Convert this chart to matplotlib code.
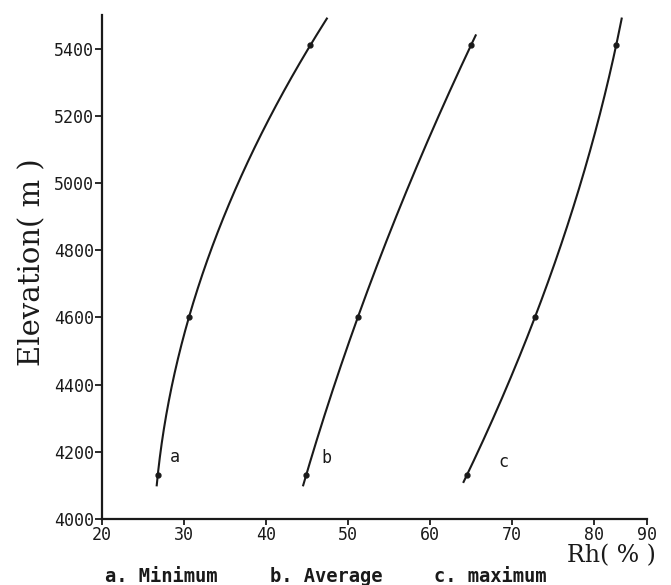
import numpy as np
import matplotlib
matplotlib.use('Agg')
import matplotlib.pyplot as plt

# measured points (Rh %, elevation m) for the three curves
RH_MIN = [26.8, 30.6, 45.4]
RH_AVG = [44.9, 51.2, 65.0]
RH_MAX = [64.5, 72.8, 84.2]
ELEV = [4130, 4600, 5410]

# how far each hand-drawn curve runs (elevation range)
CURVE_RANGE = {'a': (4100, 5490), 'b': (4100, 5440), 'c': (4110, 5490)}
LABEL_POS = {'a': (28.3, 4170), 'b': (46.8, 4165), 'c': (68.3, 4155)}

XTICKS = [20, 30, 40, 50, 60, 70, 80, 90]
YTICKS = [4000, 4200, 4400, 4600, 4800, 5000, 5200, 5400]

INK = '#1a1a1a'
# the original x axis squeezes the 80-90 interval
SQ = 0.646


def fwd(x):
    x = np.asarray(x, dtype=float)
    return np.where(x <= 80, x, 80 + (x - 80) * SQ)


def inv(x):
    x = np.asarray(x, dtype=float)
    return np.where(x <= 80, x, 80 + (x - 80) / SQ)


fig = plt.figure(figsize=(6.71, 5.85), dpi=100)
ax = fig.add_axes([0.152, 0.113, 0.812, 0.861])
ax.set_xscale('function', functions=(fwd, inv))

for key, xs in zip('abc', [RH_MIN, RH_AVG, RH_MAX]):
    # smooth curve fitted in drawn (squeezed) space, like the hand-drawn original
    coef = np.polyfit(ELEV, fwd(xs), 2)
    y0, y1 = CURVE_RANGE[key]
    yy = np.linspace(y0, y1, 200)
    ax.plot(inv(np.polyval(coef, yy)), yy, color=INK, lw=1.5)
    ax.plot(xs, ELEV, 'o', color=INK, ms=3.5)
    lx, ly = LABEL_POS[key]
    ax.text(lx, ly, key, fontsize=12, family='DejaVu Sans Mono', color=INK)

ax.set_xlim(20, 90)
ax.set_ylim(4000, 5500)
ax.set_xticks(XTICKS)
ax.set_yticks(YTICKS)
ax.set_xticklabels([str(t) for t in XTICKS], family='DejaVu Sans Mono', fontsize=12)
ax.set_yticklabels([str(t) for t in YTICKS], family='DejaVu Sans Mono', fontsize=12)
ax.tick_params(axis='x', direction='out', length=4, width=1.3, pad=1, colors=INK)
ax.tick_params(axis='y', direction='out', length=5, width=1.3, pad=1, colors=INK)
for s in ['top', 'right']:
    ax.spines[s].set_visible(False)
for s in ['left', 'bottom']:
    ax.spines[s].set_linewidth(1.6)
    ax.spines[s].set_color(INK)

fig.text(32 / 671, 1 - 262 / 585, 'Elevation( m )', rotation=90, ha='center', va='center',
         family='DejaVu Serif', fontsize=21, color=INK)
fig.text(0.977, 1 - 556 / 585, 'Rh( % )', ha='right', va='center',
         family='DejaVu Serif', fontsize=17, color=INK)

for txt, x in [('a. Minimum', 105), ('b. Average', 270), ('c. maximum', 434)]:
    fig.text(x / 671, 1 - 577 / 585, txt, ha='left', va='center',
             family='DejaVu Sans Mono', fontsize=13.5, fontweight='bold', color=INK)

fig.savefig('out.png', dpi=100, facecolor='white')
